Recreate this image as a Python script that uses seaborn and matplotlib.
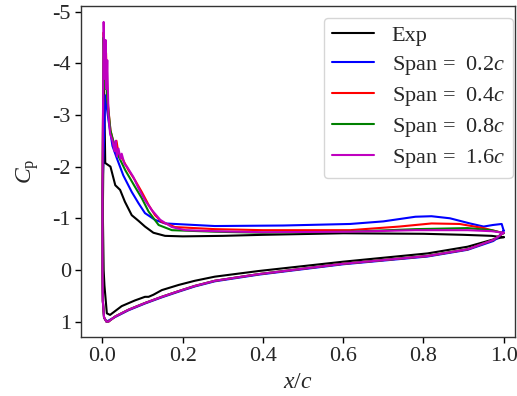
import matplotlib
matplotlib.use("Agg")
import matplotlib.pyplot as plt
from matplotlib import font_manager
import seaborn as sns

# measured Cp distributions (x/c, Cp); upper surface listed from leading to trailing edge
exp_upper_x = [0.004, 0.007, 0.02, 0.032, 0.044, 0.056, 0.073, 0.09, 0.106, 0.127, 0.156, 0.2, 0.3, 0.4, 0.6, 0.8, 0.9, 0.97, 1.0]
exp_upper_cp = [-3.6, -2.07, -2.0, -1.64, -1.55, -1.32, -1.06, -0.95, -0.84, -0.72, -0.66, -0.65, -0.66, -0.68, -0.71, -0.70, -0.68, -0.66, -0.63]
exp_lower_x = [0.001, 0.003, 0.005, 0.011, 0.019, 0.048, 0.081, 0.106, 0.115, 0.127, 0.148, 0.19, 0.23, 0.28, 0.39, 0.6, 0.81, 0.91, 0.974, 1.0]
exp_lower_cp = [-1.1, 0.0, 0.3, 0.84, 0.87, 0.70, 0.59, 0.52, 0.52, 0.48, 0.39, 0.29, 0.21, 0.13, 0.02, -0.16, -0.32, -0.45, -0.59, -0.64]

s02_upper_x = [0.007, 0.015, 0.025, 0.036, 0.052, 0.073, 0.09, 0.106, 0.131, 0.156, 0.28, 0.45, 0.617, 0.70, 0.78, 0.82, 0.866, 0.916, 0.95, 0.973, 0.995, 1.0]
s02_upper_cp = [-3.38, -2.9, -2.4, -2.16, -1.83, -1.51, -1.29, -1.10, -0.97, -0.90, -0.85, -0.86, -0.89, -0.94, -1.03, -1.04, -1.0, -0.90, -0.84, -0.87, -0.89, -0.76]
s02_lower_x = [0.0, 0.0, 0.001, 0.004, 0.01, 0.032, 0.065, 0.106, 0.148, 0.19, 0.23, 0.28, 0.39, 0.6, 0.81, 0.91, 0.974, 0.985, 1.0]
s02_lower_cp = [-1.5, 0.0, 0.6, 0.92, 1.0, 0.91, 0.78, 0.65, 0.53, 0.42, 0.32, 0.22, 0.09, -0.11, -0.26, -0.39, -0.56, -0.62, -0.76]

s04_upper_x = [0.003, 0.006, 0.009, 0.012, 0.015, 0.02, 0.03, 0.035, 0.04, 0.05, 0.065, 0.081, 0.098, 0.115, 0.131, 0.148, 0.181, 0.28, 0.4, 0.617, 0.74, 0.82, 0.89, 0.95, 1.0]
s04_upper_cp = [-4.6, -3.6, -4.2, -3.4, -3.1, -2.7, -2.4, -2.5, -2.25, -2.15, -1.93, -1.74, -1.51, -1.26, -1.06, -0.93, -0.83, -0.79, -0.77, -0.77, -0.84, -0.90, -0.89, -0.81, -0.71]

s08_upper_x = [0.003, 0.006, 0.009, 0.012, 0.02, 0.03, 0.04, 0.057, 0.081, 0.098, 0.115, 0.14, 0.173, 0.28, 0.4, 0.617, 0.78, 0.91, 0.97, 1.0]
s08_upper_cp = [-4.5, -3.5, -4.0, -3.3, -2.7, -2.4, -2.2, -1.93, -1.61, -1.39, -1.13, -0.87, -0.77, -0.74, -0.72, -0.74, -0.79, -0.81, -0.77, -0.71]

s16_upper_x = [0.003, 0.006, 0.008, 0.010, 0.012, 0.015, 0.019, 0.025, 0.03, 0.033, 0.036, 0.04, 0.045, 0.048, 0.055, 0.061, 0.077, 0.09, 0.106, 0.123, 0.144, 0.173, 0.206, 0.28, 0.4, 0.617, 0.78, 0.91, 0.97, 1.0]
s16_upper_cp = [-4.8, -3.7, -4.45, -3.5, -4.06, -3.0, -2.64, -2.5, -2.3, -2.5, -2.2, -2.35, -2.15, -2.25, -2.05, -2.0, -1.80, -1.58, -1.35, -1.16, -0.97, -0.83, -0.77, -0.75, -0.73, -0.74, -0.77, -0.77, -0.75, -0.72]

# lower surface shared by the 0.4c, 0.8c and 1.6c runs
sim_lower_x = [0.0, 0.0, 0.001, 0.004, 0.01, 0.015, 0.032, 0.065, 0.106, 0.148, 0.19, 0.23, 0.28, 0.39, 0.6, 0.81, 0.91, 0.974, 1.0]
sim_lower_cp = [-1.5, 0.0, 0.6, 0.92, 1.0, 1.0, 0.90, 0.77, 0.64, 0.52, 0.41, 0.31, 0.21, 0.08, -0.12, -0.27, -0.40, -0.58, -0.72]

labels = ["Exp", "Span =  0.2$c$", "Span =  0.4$c$", "Span =  0.8$c$", "Span =  1.6$c$"]
colors = ["black", "blue", "red", "green", "m"]


def loop(ux, ucp, lx, lcp):
    # trailing edge -> leading edge along the upper side, then back along the lower side
    return ux[::-1] + lx, ucp[::-1] + lcp


curves = [
    loop(exp_upper_x, exp_upper_cp, exp_lower_x, exp_lower_cp),
    loop(s02_upper_x, s02_upper_cp, s02_lower_x, s02_lower_cp),
    loop(s04_upper_x, s04_upper_cp, sim_lower_x, sim_lower_cp),
    loop(s08_upper_x, s08_upper_cp, sim_lower_x, sim_lower_cp),
    loop(s16_upper_x, s16_upper_cp, sim_lower_x, sim_lower_cp),
]

sns.set_style("ticks")
serif = "Liberation Serif"
names = {f.name for f in font_manager.fontManager.ttflist}
if serif not in names:
    serif = "DejaVu Serif"
plt.rcParams["font.family"] = "serif"
plt.rcParams["font.serif"] = [serif, "DejaVu Serif"]
plt.rcParams["mathtext.fontset"] = "custom"
plt.rcParams["mathtext.rm"] = serif
plt.rcParams["mathtext.it"] = serif + ":italic"
plt.rcParams["axes.unicode_minus"] = False

fig = plt.figure(figsize=(5.17, 3.96), dpi=100)
ax = fig.add_axes([0.157, 0.150, 0.839, 0.835])

for (x, cp), lab, col in zip(curves, labels, colors):
    sns.lineplot(x=x, y=cp, sort=False, estimator=None, color=col, lw=1.5, label=lab, ax=ax)

ax.set_xlim(-0.053, 1.028)
ax.set_ylim(1.29, -5.11)
ax.set_xticks([0.0, 0.2, 0.4, 0.6, 0.8, 1.0])
ax.set_xticklabels(["0.0", "0.2", "0.4", "0.6", "0.8", "1.0"])
ax.set_yticks([-5, -4, -3, -2, -1, 0, 1])
ax.set_yticklabels(["-5", "-4", "-3", "-2", "-1", "0", "1"])
ax.tick_params(labelsize=16, length=4, width=1, color="black")
for s in ax.spines.values():
    s.set_color("#333333")
    s.set_linewidth(1)

ax.set_xlabel("$x/c$", fontsize=17)
ax.set_ylabel("$C_\\mathrm{p}$", fontsize=17, labelpad=8)

ax.legend(loc="upper right", bbox_to_anchor=(0.995, 0.964), borderaxespad=0,
          fontsize=16, frameon=True, handlelength=1.9, handletextpad=0.8,
          labelspacing=0.36, borderpad=0.35)

fig.savefig("out.png", dpi=100)
